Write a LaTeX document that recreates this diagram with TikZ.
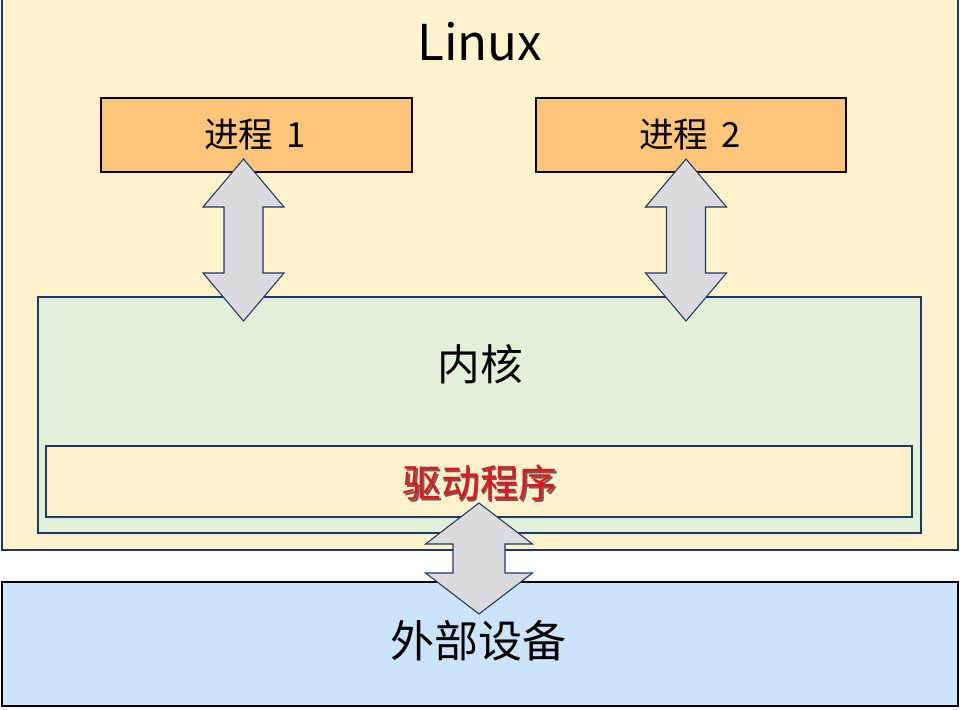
\documentclass[tikz,border=0pt]{standalone}
\usepackage{fontspec}
\setmainfont{Noto Sans CJK SC}
\newfontfamily\cjk{Noto Sans CJK SC}
\definecolor{paleyellow}{HTML}{FFF2CC}
\definecolor{palegreen}{HTML}{E2F0D9}
\definecolor{paleblue}{HTML}{CCE4FA}
\definecolor{procorange}{HTML}{FFC57A}
\definecolor{navy}{HTML}{1F3864}
\definecolor{arrowgray}{HTML}{DBDBDE}
\definecolor{drvred}{HTML}{E8141C}
\newcommand\dblarr[7]{% name, cx, top, bottom, shaft half, head half, head len
  \path[arrowshape] (#2,#3) coordinate (#1-top)
    -- (#2+#6,#3+#7) -- (#2+#5,#3+#7) -- (#2+#5,#4-#7) -- (#2+#6,#4-#7)
    -- (#2,#4) coordinate (#1-bot)
    -- (#2-#6,#4-#7) -- (#2-#5,#4-#7) -- (#2-#5,#3+#7) -- (#2-#6,#3+#7) -- cycle;}
\begin{document}
\begin{tikzpicture}[x=0.75pt,y=-0.75pt,
  box/.style={draw=navy,line width=1.1pt,inner sep=0pt},
  blackbox/.style={draw=black,line width=1.2pt,inner sep=0pt},
  arrowshape/.style={draw=navy,line width=0.8pt,fill=arrowgray,line join=miter}]
\useasboundingbox (0,0) rectangle (960,710);
% outer Linux box
\path[box,fill=paleyellow] (2,-3) rectangle (958,550);
\node (linux) at (480,42) {\fontsize{37pt}{40pt}\selectfont Linux};
% processes
\path[blackbox,fill=procorange] (101,98) rectangle (412,172);
\node (p1) at (255,135) {\fontsize{26pt}{29pt}\selectfont 进程\hspace{0.15em} 1};
\path[blackbox,fill=procorange] (536,98) rectangle (846,172);
\node (p2) at (690,135) {\fontsize{26pt}{29pt}\selectfont 进程\hspace{0.15em} 2};
% kernel
\path[box,fill=palegreen] (38,297) rectangle (921,533);
\node (kernel) at (480,364) {\fontsize{32pt}{35pt}\selectfont 内核};
% driver
\path[box,fill=paleyellow] (46,446) rectangle (912,517);
\node[text=black!75,opacity=0.8] at (481.5,484.5) {\fontsize{29pt}{32pt}\selectfont 驱动程序};
\node[text=drvred] (driver) at (480,483) {\fontsize{29pt}{32pt}\selectfont 驱动程序};
% external device
\path[blackbox,fill=paleblue] (2,582) rectangle (958,706);
\node (dev) at (478,641) {\fontsize{33pt}{36pt}\selectfont 外部设备};
% double arrows
\dblarr{a1}{243.5}{159}{321}{19.5}{40.5}{48}
\dblarr{a2}{686}{159}{321}{19.5}{40.5}{48}
\dblarr{a3}{479}{503}{614}{26}{53.5}{41}
\end{tikzpicture}
\end{document}
